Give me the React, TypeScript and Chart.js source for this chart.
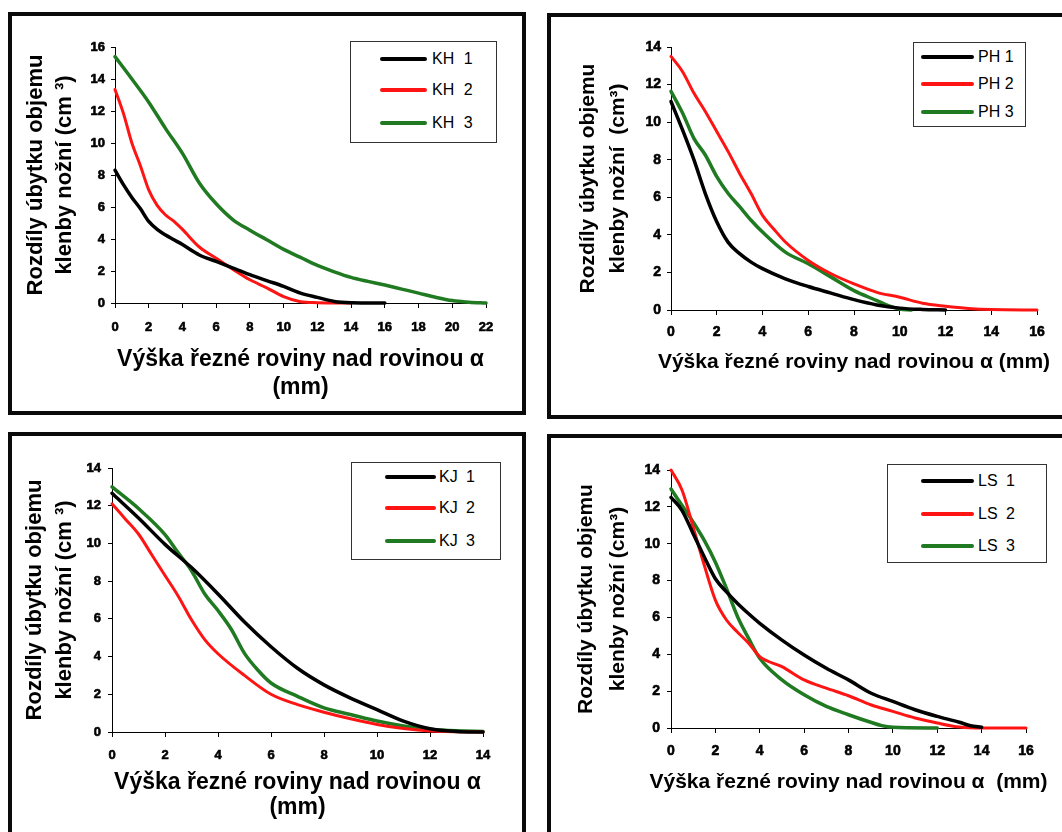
import React, { useEffect, useRef } from "react";
import { Chart, registerables } from "chart.js";

Chart.register(...registerables);

const FONT = "'Liberation Sans', Arial, Helvetica, sans-serif";
const BLACK = "#000000";
const RED = "#ff1414";
const GREEN = "#1f7a22";

// ---------- KH (top-left) ----------
const kh1X = [0, 0.5, 1, 1.5, 2, 2.5, 3, 3.5, 4, 5, 6, 7, 8, 9, 10, 11, 12, 13, 14, 16];
const kh1Y = [8.3, 7.4, 6.6, 5.9, 5.1, 4.6, 4.25, 3.95, 3.65, 3.0, 2.6, 2.18, 1.77, 1.4, 1.04, 0.62, 0.35, 0.1, 0.02, 0];
const kh2X = [0, 0.5, 1, 1.5, 2, 2.5, 3, 3.5, 4, 5, 6, 7, 8, 9, 10, 11, 12, 14];
const kh2Y = [13.35, 11.85, 10.0, 8.6, 7.07, 6.1, 5.5, 5.1, 4.6, 3.5, 2.8, 2.1, 1.45, 0.95, 0.4, 0.08, 0.02, 0];
const kh3X = [0, 1, 2, 3, 4, 5, 6, 7, 8, 9, 10, 11, 12, 13, 14, 15, 16, 17, 18, 19, 20, 21, 22];
const kh3Y = [15.4, 14.0, 12.55, 10.9, 9.35, 7.5, 6.2, 5.2, 4.55, 3.95, 3.35, 2.85, 2.35, 1.95, 1.6, 1.35, 1.12, 0.87, 0.62, 0.36, 0.15, 0.05, 0];

// ---------- PH (top-right) ----------
const ph1X = [0, 0.5, 1, 1.5, 2, 2.5, 3, 3.5, 4, 5, 6, 7, 8, 9, 10, 11, 12];
const ph1Y = [11.1, 9.6, 8.0, 6.2, 4.7, 3.6, 3.0, 2.55, 2.2, 1.66, 1.25, 0.9, 0.55, 0.27, 0.1, 0.03, 0];
const ph2X = [0, 0.5, 1, 1.5, 2, 2.5, 3, 3.5, 4, 4.5, 5, 6, 7, 8, 9, 10, 11, 12, 13, 14, 16];
const ph2Y = [13.5, 12.7, 11.55, 10.57, 9.5, 8.43, 7.27, 6.2, 5.04, 4.3, 3.62, 2.64, 1.93, 1.39, 0.94, 0.68, 0.36, 0.2, 0.08, 0.02, 0];
const ph3X = [0, 0.5, 1, 1.5, 2, 2.5, 3, 3.5, 4, 5, 6, 7, 8, 9, 9.5, 10, 10.5];
const ph3Y = [11.64, 10.5, 9.14, 8.25, 7.1, 6.2, 5.5, 4.78, 4.15, 3.08, 2.46, 1.75, 1.03, 0.5, 0.23, 0.05, 0];

// ---------- KJ (bottom-left) ----------
const kj1X = [0, 1, 2, 3, 4, 5, 6, 7, 8, 9, 10, 11, 12, 13, 14];
const kj1Y = [12.66, 11.35, 9.95, 8.72, 7.32, 5.83, 4.52, 3.38, 2.5, 1.8, 1.19, 0.58, 0.17, 0.03, 0];
const kj2X = [0, 0.5, 1, 1.5, 2, 2.5, 3, 3.5, 4, 5, 6, 7, 8, 9, 10, 11, 12, 14];
const kj2Y = [12.1, 11.3, 10.5, 9.4, 8.3, 7.2, 5.95, 4.9, 4.15, 3.0, 2.0, 1.45, 1.05, 0.7, 0.4, 0.18, 0.05, 0];
const kj3X = [0, 1, 2, 2.5, 3, 3.5, 4, 4.5, 5, 5.5, 6, 7, 8, 9, 10, 11, 12, 13, 14];
const kj3Y = [13.0, 11.85, 10.47, 9.5, 8.55, 7.32, 6.44, 5.45, 4.17, 3.29, 2.6, 1.89, 1.28, 0.93, 0.58, 0.32, 0.14, 0.06, 0.03];

// ---------- LS (bottom-right) ----------
const ls1X = [0, 0.5, 1, 1.5, 2, 2.5, 3, 3.5, 4, 5, 6, 7, 8, 9, 10, 11, 12, 13, 13.5, 14];
const ls1Y = [12.52, 11.8, 10.54, 9.28, 8.1, 7.39, 6.76, 6.2, 5.68, 4.77, 3.96, 3.24, 2.61, 1.9, 1.44, 0.99, 0.63, 0.31, 0.12, 0.04];
const ls2X = [0, 0.5, 1, 1.5, 2, 2.5, 3, 3.5, 4, 5, 6, 7, 8, 9, 10, 11, 12, 13, 14, 16];
const ls2Y = [14.0, 12.9, 10.9, 8.83, 6.94, 5.86, 5.2, 4.6, 3.87, 3.33, 2.61, 2.16, 1.75, 1.26, 0.9, 0.54, 0.27, 0.05, 0, 0];
const ls3X = [0, 0.5, 1, 1.5, 2, 2.5, 3, 3.5, 4, 5, 6, 7, 8, 9, 9.5, 10, 12];
const ls3Y = [12.97, 12.07, 11.17, 10.18, 9.0, 7.57, 6.04, 4.86, 3.78, 2.61, 1.8, 1.17, 0.72, 0.31, 0.13, 0.04, 0];

const Y_TITLE_A = ["Rozdíly úbytku objemu", "klenby nožní (cm ³)"];
const Y_TITLE_B = ["Rozdíly úbytku objemu", "klenby nožní  (cm³)"];
const Y_TITLE_C = ["Rozdíly úbytku objemu", "klenby nožní (cm³)"];
const X_TITLE_TWO = ["Výška řezné roviny nad rovinou α", "(mm)"];
const X_TITLE_ONE = ["Výška řezné roviny nad rovinou α (mm)"];
const X_TITLE_ONE_B = ["Výška řezné roviny nad rovinou α  (mm)"];

type Series = { label: string; x: number[]; y: number[]; color: string; width: number };

type Box = { left: number; top: number; width: number; height: number };

type PanelCfg = {
  frame: Box;
  canvas: Box;
  plot: { left: number; top: number; right: number; bottom: number };
  xMax: number;
  yMax: number;
  series: Series[];
  xTitle: string[];
  yTitle: string[];
  xTitleFont: number;
  xTitleLH: number;
  xTitlePB: number;
  yTitleFont: number;
  yTitleLH: number;
  yTitlePT: number;
  tickFont: number;
  yTickPad: number;
  xTickPad: number;
  legend: {
    box: Box;
    rows: number[];
    lineLeft: number;
    lineRight: number;
    textLeft: number;
    fontSize: number;
    wordSpacing: number;
  };
};

const PANELS: PanelCfg[] = [
  {
    frame: { left: 8, top: 12, width: 518, height: 403 },
    canvas: { left: 12, top: 16, width: 510, height: 395 },
    plot: { left: 115, top: 47, right: 486, bottom: 303 },
    xMax: 22,
    yMax: 16,
    series: [
      { label: "KH 1", x: kh1X, y: kh1Y, color: BLACK, width: 3.5 },
      { label: "KH 2", x: kh2X, y: kh2Y, color: RED, width: 3 },
      { label: "KH 3", x: kh3X, y: kh3Y, color: GREEN, width: 3.5 },
    ],
    xTitle: X_TITLE_TWO,
    yTitle: Y_TITLE_A,
    xTitleFont: 23,
    xTitleLH: 28,
    xTitlePB: 9,
    yTitleFont: 22,
    yTitleLH: 29,
    yTitlePT: 9,
    tickFont: 13,
    yTickPad: 6,
    xTickPad: 12,
    legend: {
      box: { left: 350, top: 41, width: 147, height: 102 },
      rows: [58, 89, 122],
      lineLeft: 379,
      lineRight: 426,
      textLeft: 431,
      fontSize: 16,
      wordSpacing: 5,
    },
  },
  {
    frame: { left: 547, top: 13, width: 530, height: 406 },
    canvas: { left: 551, top: 17, width: 511, height: 398 },
    plot: { left: 671, top: 47, right: 1037, bottom: 310 },
    xMax: 16,
    yMax: 14,
    series: [
      { label: "PH 1", x: ph1X, y: ph1Y, color: BLACK, width: 3.5 },
      { label: "PH 2", x: ph2X, y: ph2Y, color: RED, width: 3 },
      { label: "PH 3", x: ph3X, y: ph3Y, color: GREEN, width: 3.5 },
    ],
    xTitle: X_TITLE_ONE,
    yTitle: Y_TITLE_B,
    xTitleFont: 21,
    xTitleLH: 30,
    xTitlePB: 38,
    yTitleFont: 21,
    yTitleLH: 30,
    yTitlePT: 22,
    tickFont: 14,
    yTickPad: 6,
    xTickPad: 9,
    legend: {
      box: { left: 913, top: 42, width: 113, height: 85 },
      rows: [56, 83, 111],
      lineLeft: 920,
      lineRight: 973,
      textLeft: 977,
      fontSize: 16,
      wordSpacing: 0,
    },
  },
  {
    frame: { left: 8, top: 432, width: 518, height: 420 },
    canvas: { left: 12, top: 436, width: 510, height: 396 },
    plot: { left: 112, top: 468, right: 483, bottom: 732 },
    xMax: 14,
    yMax: 14,
    series: [
      { label: "KJ 1", x: kj1X, y: kj1Y, color: BLACK, width: 3.5 },
      { label: "KJ 2", x: kj2X, y: kj2Y, color: RED, width: 3 },
      { label: "KJ 3", x: kj3X, y: kj3Y, color: GREEN, width: 3.5 },
    ],
    xTitle: X_TITLE_TWO,
    yTitle: Y_TITLE_A,
    xTitleFont: 23,
    xTitleLH: 25,
    xTitlePB: 11.5,
    yTitleFont: 22,
    yTitleLH: 30,
    yTitlePT: 8,
    tickFont: 13,
    yTickPad: 7,
    xTickPad: 11,
    legend: {
      box: { left: 351, top: 462, width: 150, height: 98 },
      rows: [476, 507, 540],
      lineLeft: 384,
      lineRight: 435,
      textLeft: 438,
      fontSize: 16,
      wordSpacing: 4,
    },
  },
  {
    frame: { left: 547, top: 434, width: 530, height: 420 },
    canvas: { left: 551, top: 438, width: 511, height: 394 },
    plot: { left: 671, top: 470, right: 1026, bottom: 728 },
    xMax: 16,
    yMax: 14,
    series: [
      { label: "LS 1", x: ls1X, y: ls1Y, color: BLACK, width: 3.5 },
      { label: "LS 2", x: ls2X, y: ls2Y, color: RED, width: 3 },
      { label: "LS 3", x: ls3X, y: ls3Y, color: GREEN, width: 3.5 },
    ],
    xTitle: X_TITLE_ONE_B,
    yTitle: Y_TITLE_C,
    xTitleFont: 21,
    xTitleLH: 30,
    xTitlePB: 35,
    yTitleFont: 21,
    yTitleLH: 32,
    yTitlePT: 19,
    tickFont: 14,
    yTickPad: 7,
    xTickPad: 10,
    legend: {
      box: { left: 887, top: 464, width: 160, height: 99 },
      rows: [480, 513, 545],
      lineLeft: 920,
      lineRight: 973,
      textLeft: 977,
      fontSize: 16,
      wordSpacing: 4,
    },
  },
];

function Panel({ cfg }: { cfg: PanelCfg }) {
  const ref = useRef<HTMLCanvasElement | null>(null);

  useEffect(() => {
    if (!ref.current) return;
    const c = cfg.canvas;
    const p = cfg.plot;
    const yAxisW = p.left - c.left;
    const xAxisH = c.top + c.height - p.bottom;
    const tickFont = { family: FONT, size: cfg.tickFont, weight: 700 as any, lineHeight: 1.2 };

    // x-axis title drawn at full width (Chart.js would squeeze it to the plot width)
    const xTitlePlugin = {
      id: "xTitleFull",
      afterDraw(chart: any) {
        const ctx = chart.ctx as CanvasRenderingContext2D;
        const area = chart.chartArea;
        const cx = (area.left + area.right) / 2;
        const n = cfg.xTitle.length;
        ctx.save();
        ctx.fillStyle = BLACK;
        ctx.font = `bold ${cfg.xTitleFont}px ${FONT}`;
        ctx.textAlign = "center";
        ctx.textBaseline = "middle";
        cfg.xTitle.forEach((line, i) => {
          const y = chart.height - cfg.xTitlePB - cfg.xTitleLH / 2 - (n - 1 - i) * cfg.xTitleLH;
          ctx.fillText(line, cx, y);
        });
        ctx.restore();
      },
    };

    const chart = new Chart(ref.current, {
      type: "line",
      data: {
        datasets: cfg.series.map((s) => ({
          label: s.label,
          data: s.x.map((xv, i) => ({ x: xv, y: s.y[i] })),
          borderColor: s.color,
          backgroundColor: s.color,
          borderWidth: s.width,
          pointRadius: 0,
          pointHoverRadius: 0,
          cubicInterpolationMode: "monotone" as const,
          fill: false,
          clip: false as any,
          borderCapStyle: "round" as const,
          borderJoinStyle: "round" as const,
        })),
      },
      options: {
        animation: false,
        responsive: false,
        maintainAspectRatio: false,
        devicePixelRatio: 1,
        events: [],
        font: { family: FONT, weight: 700 as any },
        layout: {
          padding: {
            left: 0,
            top: p.top - c.top,
            right: c.left + c.width - p.right,
            bottom: 0,
          },
        },
        plugins: {
          legend: { display: false },
          tooltip: { enabled: false },
        },
        scales: {
          x: {
            type: "linear",
            min: 0,
            max: cfg.xMax,
            ticks: {
              stepSize: 2,
              font: tickFont,
              color: BLACK,
              padding: cfg.xTickPad,
              maxRotation: 0,
              textStrokeColor: BLACK,
              textStrokeWidth: 0.6,
            },
            grid: { drawOnChartArea: false, drawTicks: true, tickLength: 5, color: BLACK, lineWidth: 1 },
            border: { display: true, color: BLACK, width: 1 },
            title: { display: false },
            afterFit: (scale: any) => {
              scale.height = xAxisH;
            },
          },
          y: {
            type: "linear",
            min: 0,
            max: cfg.yMax,
            ticks: {
              stepSize: 2,
              font: tickFont,
              color: BLACK,
              padding: cfg.yTickPad,
              textStrokeColor: BLACK,
              textStrokeWidth: 0.6,
            },
            grid: { drawOnChartArea: false, drawTicks: true, tickLength: 4, color: BLACK, lineWidth: 1 },
            border: { display: true, color: BLACK, width: 1 },
            title: {
              display: true,
              text: cfg.yTitle,
              color: BLACK,
              font: { family: FONT, size: cfg.yTitleFont, weight: "bold", lineHeight: cfg.yTitleLH / cfg.yTitleFont },
              padding: { top: cfg.yTitlePT, bottom: 0 },
            },
            afterFit: (scale: any) => {
              scale.width = yAxisW;
            },
          },
        },
      } as any,
      plugins: [xTitlePlugin],
    });
    return () => chart.destroy();
  }, [cfg]);

  const lg = cfg.legend;
  return (
    <>
      <div
        style={{
          position: "absolute",
          left: cfg.frame.left,
          top: cfg.frame.top,
          width: cfg.frame.width,
          height: cfg.frame.height,
          border: "4px solid #0a0a0a",
          boxSizing: "border-box",
        }}
      />
      <canvas
        ref={ref}
        width={cfg.canvas.width}
        height={cfg.canvas.height}
        style={{
          position: "absolute",
          left: cfg.canvas.left,
          top: cfg.canvas.top,
          width: cfg.canvas.width,
          height: cfg.canvas.height,
        }}
      />
      <div
        style={{
          position: "absolute",
          left: lg.box.left,
          top: lg.box.top,
          width: lg.box.width,
          height: lg.box.height,
          border: "1px solid #333",
          boxSizing: "border-box",
          background: "#ffffff",
        }}
      >
        {cfg.series.map((s, i) => (
          <div
            key={s.label}
            style={{
              position: "absolute",
              left: 0,
              top: lg.rows[i] - lg.box.top - 12,
              height: 24,
              width: "100%",
            }}
          >
            <div
              style={{
                position: "absolute",
                left: lg.lineLeft - lg.box.left,
                top: 10,
                width: lg.lineRight - lg.lineLeft,
                height: 4,
                background: s.color,
                borderRadius: 2,
              }}
            />
            <span
              style={{
                position: "absolute",
                left: lg.textLeft - lg.box.left,
                top: 0,
                lineHeight: "24px",
                fontFamily: FONT,
                fontSize: lg.fontSize,
                color: BLACK,
                whiteSpace: "pre",
                wordSpacing: lg.wordSpacing,
              }}
            >
              {s.label}
            </span>
          </div>
        ))}
      </div>
    </>
  );
}

export default function App() {
  return (
    <div
      style={{
        position: "absolute",
        left: 0,
        top: 0,
        width: 1062,
        height: 832,
        overflow: "hidden",
        background: "#ffffff",
      }}
    >
      {PANELS.map((cfg, i) => (
        <Panel key={i} cfg={cfg} />
      ))}
    </div>
  );
}
